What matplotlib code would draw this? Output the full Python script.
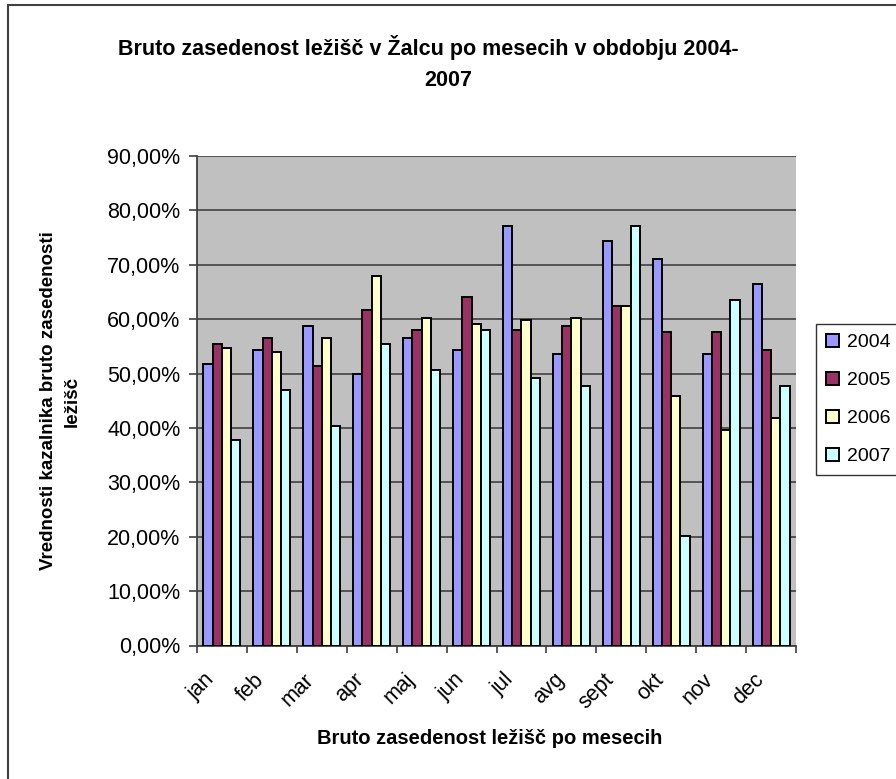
import matplotlib
matplotlib.use("Agg")
import matplotlib.pyplot as plt
import matplotlib.transforms as mtransforms
import numpy as np
from matplotlib.patches import Rectangle
from matplotlib.ticker import FuncFormatter, FixedLocator

plt.rcParams['font.family'] = ['Liberation Sans', 'DejaVu Sans']

months = ["jan", "feb", "mar", "apr", "maj", "jun", "jul", "avg", "sept", "okt", "nov", "dec"]
years = ["2004", "2005", "2006", "2007"]
v2004 = [51.7, 54.4, 58.8, 49.9, 56.5, 54.4, 77.2, 53.6, 74.3, 71.0, 53.6, 66.5]
v2005 = [55.5, 56.5, 51.4, 61.7, 58.0, 64.0, 58.0, 58.8, 62.5, 57.6, 57.6, 54.4]
v2006 = [54.7, 54.0, 56.5, 68.0, 60.2, 59.1, 59.9, 60.2, 62.5, 45.9, 39.6, 41.8]
v2007 = [37.7, 47.0, 40.4, 55.4, 50.6, 58.0, 49.2, 47.7, 77.2, 20.1, 63.5, 47.7]
series = [v2004, v2005, v2006, v2007]
colors = ["#9999FF", "#993366", "#FFFFCC", "#CCFFFF"]

W, H = 896, 779
fig = plt.figure(figsize=(W / 100, H / 100), dpi=100)

# outer chart border
fig.patches.append(Rectangle((8 / W, 0 - 0.01), 1.0, (H - 5) / H + 0.01,
                             transform=fig.transFigure, fill=False,
                             edgecolor="#404040", linewidth=1.5))

ax = fig.add_axes([197 / W, 1 - 645.5 / H, 599 / W, (645.5 - 156) / H])
ax.set_facecolor("#C0C0C0")

x = np.arange(len(months))
bw = 0.185
for i, (vals, c, y) in enumerate(zip(series, colors, years)):
    ax.bar(x + (i - 1.5) * bw, vals, width=bw, color=c, edgecolor="black",
           linewidth=1.4, label=y, zorder=3)

ax.set_xlim(-0.5, len(months) - 0.5)
ax.set_ylim(0, 90)
ax.set_yticks(np.arange(0, 91, 10))
ax.yaxis.set_major_formatter(FuncFormatter(lambda v, p: f"{v:.2f}%".replace(".", ",")))
ax.grid(axis="y", color="#404040", linewidth=1.2, zorder=1)

ax.xaxis.set_major_locator(FixedLocator(np.arange(-0.5, len(months), 1.0)))
ax.set_xticklabels([])
ax.xaxis.set_minor_locator(FixedLocator(x))
ax.set_xticklabels(months, minor=True, rotation=45, ha="right", va="top",
                   rotation_mode="anchor", fontsize=15.5)
ax.tick_params(axis="x", which="minor", length=0, pad=17)
ax.tick_params(axis="x", which="major", length=5, width=1.2, direction="out", color="#404040")
ax.tick_params(axis="y", length=6, width=1.2, direction="out", labelsize=15.5, pad=6, color="#404040")
off = mtransforms.ScaledTranslation(-0.18, 0, fig.dpi_scale_trans)
for lab in ax.get_xticklabels(minor=True):
    lab.set_transform(lab.get_transform() + off)

for s in ["top", "right"]:
    ax.spines[s].set_visible(False)
for s in ["left", "bottom"]:
    ax.spines[s].set_color("#404040")
    ax.spines[s].set_linewidth(1.3)

fig.text(428 / W, 1 - 47 / H,
         "Bruto zasedenost ležišč v Žalcu po mesecih v obdobju 2004-",
         ha="center", va="center", fontsize=15.5, fontweight="bold")
fig.text(448 / W, 1 - 80 / H, "2007",
         ha="center", va="center", fontsize=15.5, fontweight="bold")
fig.text(490 / W, 1 - 739 / H, "Bruto zasedenost ležišč po mesecih",
         ha="center", va="center", fontsize=14.5, fontweight="bold")
fig.text(60 / W, 1 - 401 / H, "Vrednosti kazalnika bruto zasedenosti\nležišč",
         ha="center", va="center", rotation=90, fontsize=13.5, fontweight="bold",
         linespacing=1.5)

leg = fig.legend(loc="upper left", bbox_to_anchor=(816 / W, 1 - 324 / H),
                 fontsize=14, frameon=True, fancybox=False, edgecolor="black",
                 handlelength=0.7, handleheight=0.7, handletextpad=0.4,
                 labelspacing=1.05, borderpad=0.5, borderaxespad=0)
leg.get_frame().set_linewidth(1.0)

fig.savefig("out.png", dpi=100)
